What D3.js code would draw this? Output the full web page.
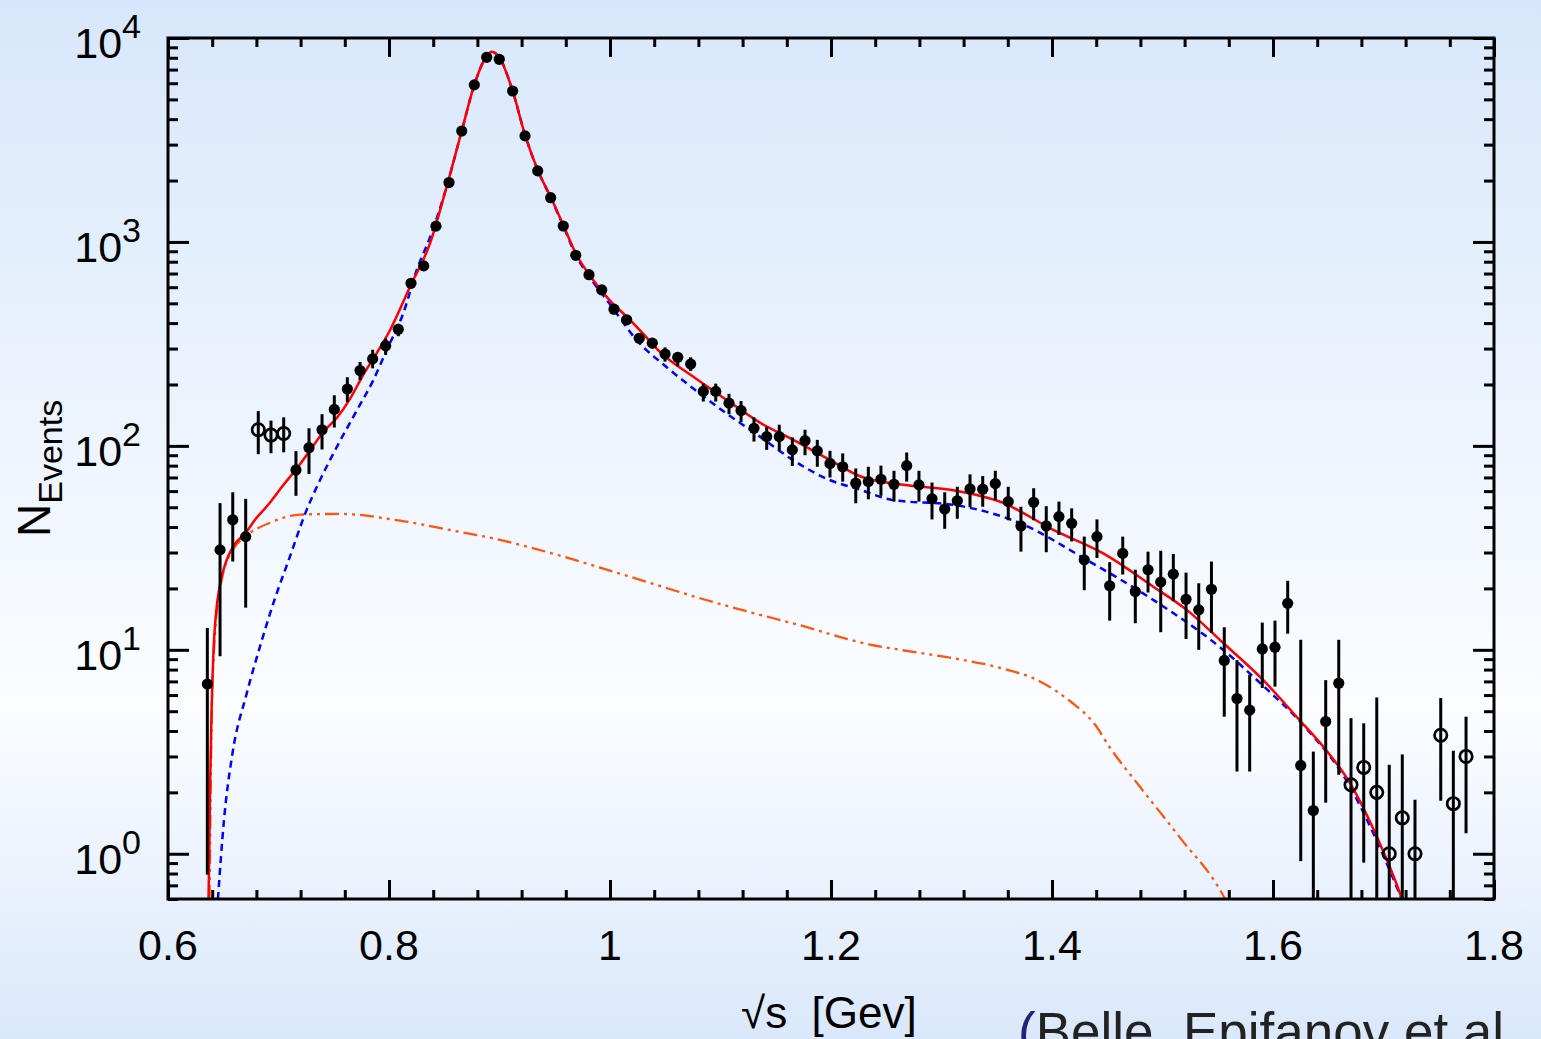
<!DOCTYPE html>
<html lang="en">
<head>
<meta charset="utf-8">
<script src="https://cdn.jsdelivr.net/npm/d3@7"></script>
<style>
  body { margin: 0; padding: 0; overflow: hidden; }
  text { font-family: "Liberation Sans", Arial, sans-serif; }
</style>
<title>K pi spectrum</title>
</head>
<body>
<div id="chart"></div>
<script>

// ---- data ----
// filled points: sqrt(s) [GeV], events, lower / upper end of error bar
var filledX = [0.6356,0.6471,0.6586,0.6703,0.7158,0.7276,0.7394,0.7505,0.7623,0.7738,0.7852,0.7970,0.8084,
  0.8199,0.8314,0.8425,0.8543,0.8658,0.8772,0.8884,0.8998,0.9119,0.9231,0.9346,0.9463,0.9577,0.9690,0.9810,
  0.9925,1.0036,1.0151,1.0265,1.0383,1.0498,1.0613,1.0730,1.0844,1.0957,1.1077,1.1186,1.1303,1.1418,1.1532,
  1.1650,1.1765,1.1876,1.1991,1.2106,1.2224,1.2338,1.2452,1.2570,1.2685,1.2796,1.2914,1.3029,1.3143,1.3258,
  1.3373,1.3487,1.3604,1.3719,1.3834,1.3948,1.4063,1.4178,1.4292,1.4407,1.4522,1.4640,1.4754,1.4869,1.4984,
  1.5098,1.5213,1.5328,1.5443,1.5559,1.5674,1.5789,1.5903,1.6018,1.6133,1.6251,1.6365,1.6477,1.6595];
var filledY = [6.8,30.9,43.4,35.9,76.2,98,120,151,190,234,267,310,373,
  627,763,1195,1955,3500,5890,8040,7860,5497,3311,2230,1648,1197,860,691,
  582,468,415,337,319,282,272,252,185,185,162,149,122,111,111,
  95.6,106,94.5,82,79,65.6,66.8,68.6,64.8,80,64.4,55,49,53.8,61.5,
  61.3,65.3,53.3,40.5,52.9,40.5,45,41.7,27.6,35.9,20.6,29.7,19.3,24.7,21.5,
  23.5,17.7,15.7,19.8,8.87,5.77,5.06,10.1,10.3,16.9,2.71,1.63,4.45,6.86];
var filledLo = [0.79,9.3,27.1,16.1,56.9,72.8,96,123,164,210,240,279,345,
  610,745,1170,1920,3440,5810,7950,7770,5420,3250,2180,1605,1160,830,665,
  558,447,395,318,300,259,246,233,165,165,143,131,105,95.6,95,
  79.7,90,79,70,66.8,52.3,54.7,56.9,53.3,66.8,53.3,43.6,39.2,43.9,50,
  50.3,54.2,43.2,30.3,43.2,30.1,36.6,34,19.6,28.2,13.9,23.4,13.5,19.1,12.2,
  17.3,11.3,10,12.1,4.7,2.53,2.53,6.5,6.6,12,0.92,0,1.78,2.44];
var filledHi = [12.8,52.4,59.2,55,94.2,122,143,177,217,258,296,336,397,
  645,782,1220,1990,3560,5970,8130,7950,5570,3370,2280,1690,1235,890,717,
  606,489,435,356,338,304,286,272,202,202,180,166,138,124,127,
  110,120,107,94.6,91.9,77.5,79,80,75.5,92.8,75.5,66.1,59.2,63,72.5,
  71.1,75.5,63,50.3,62,50.6,53.3,49.4,35.9,43.6,26.9,35.9,24.7,30.3,30.6,
  29.5,23.9,21.2,27.1,12.9,8.9,7.55,13.6,13.9,21.8,11.2,3.17,7.1,11.2];

// open points
var openX  = [0.6817,0.6932,0.7047,1.6706,1.6821,1.6939,1.7052,1.7170,1.7285,1.7518,1.7632,1.7747];
var openY  = [120,113,115,2.18,2.65,2.0,1.0,1.5,1.0,3.81,1.76,3.0];
var openLo = [91,92,93,0,0.905,0,0,0,0,1.82,0,1.26];
var openHi = [148,133,138,4.62,4.36,5.84,2.73,3.07,1.84,5.8,3.2,4.7];

// total fit (red)
var totalX = [0.6367,0.6373,0.6380,0.6394,0.6412,0.6434,0.6471,0.6525,0.6588,0.6703,0.6796,0.6893,0.7041,
  0.7165,0.7285,0.7405,0.7527,0.7647,0.7767,0.7889,0.8009,0.8190,0.8371,0.8522,0.8658,0.8772,0.8884,0.8929,
  0.8998,0.9119,0.9231,0.9346,0.9463,0.9577,0.9692,0.9849,1.0000,1.0151,1.0299,1.0452,1.0754,1.1056,1.1357,
  1.1659,1.1961,1.2262,1.2654,1.3107,1.3559,1.4012,1.4464,1.4917,1.5219,1.5550,1.5912,1.6244,1.6455,1.6697,
  1.6938,1.7149,1.7167];
var totalY = [0.6,1.0,2.0,5,10,15,21,27,32,37.5,44,50.4,64,
  77.5,95,117,137,170,223,285,369,603,984,1868,3500,5890,8175,8560,
  8040,5500,3350,2250,1660,1210,875,649,515,430,355,289,218,168,130,
  107,87,71,64.4,60.6,52.5,38.7,29.7,20.4,15.7,10.8,7.1,4.5,3.35,2.22,
  1.22,0.64,0.6];

// vector K* part (blue dashed)
var vectorX = [0.6452,0.6507,0.6579,0.6712,0.6833,0.6953,0.7104,0.7243,0.7376,0.7527,0.7708,0.7858,0.7979,
  0.8129,0.8251,0.8371,0.8522,0.8658,0.8772,0.8884,0.8929,0.8998,0.9119,0.9231,0.9346,0.9463,0.9577,0.9692,
  0.9849,1.0000,1.0242,1.0513,1.0754,1.1056,1.1357,1.1659,1.1961,1.2262,1.2564,1.3107,1.3710,1.4314,1.4914,
  1.5520,1.5912,1.6244,1.6697,1.6908,1.7165];
var vectorY = [0.6,1.47,3.0,6.1,10.4,16.9,28.7,46.8,68,98.6,149,210,295,
  447,729,1052,1868,3500,5890,8175,8560,8040,5500,3350,2250,1650,1200,860,
  635,495,330,243,191,144,111,85,69,61,54.2,51.4,41.8,27.6,17.6,
  10.3,6.65,4.45,2.13,1.26,0.6];

// scalar part (orange dash-dot-dot)
var scalarX = [0.6376,0.6389,0.6416,0.6486,0.6588,0.6703,0.6923,0.7195,0.7557,0.8100,0.8552,0.9005,0.9457,
  0.9910,1.0362,1.0814,1.1267,1.1719,1.2172,1.2353,1.2624,1.3077,1.3529,1.3891,1.4163,1.4389,1.4525,1.4796,
  1.5158,1.5538,1.5566];
var scalarY = [0.6,2.9,10,22,31,36,42,46,46.4,43,38.7,34.6,29.9,
  25.3,21.3,17.9,15.3,13.2,11.2,10.6,10.0,9.15,8.16,7.0,5.6,4.3,3.31,2.13,
  1.2,0.64,0.6];

// tick labels
var xMajorTicks = [0.6, 0.8, 1.0, 1.2, 1.4, 1.6, 1.8];
var xTickLabels = ["0.6", "0.8", "1", "1.2", "1.4", "1.6", "1.8"];
var yMajorExp = [0, 1, 2, 3, 4];

// ---- layout ----
var width = 1541;
var height = 1039;
var padL = 168, padR = 1494, padT = 38, padB = 899;

var x = d3.scaleLinear().domain([0.6, 1.8]).range([padL, padR]);
var y = d3.scaleLog().domain([0.6, 10000]).range([padB, padT]);

var svg = d3.select("#chart")
  .append("svg")
  .attr("width", width)
  .attr("height", height);

// background gradient
var defs = svg.append("defs");
var bg = defs.append("linearGradient")
  .attr("id", "bg")
  .attr("x1", 0).attr("y1", 0).attr("x2", 0).attr("y2", 1);
bg.append("stop").attr("offset", "0%").attr("stop-color", "#d7e7fb");
bg.append("stop").attr("offset", "68%").attr("stop-color", "#fbfdff");
bg.append("stop").attr("offset", "100%").attr("stop-color", "#dae8fb");

svg.append("rect")
  .attr("width", width)
  .attr("height", height)
  .style("fill", "url(#bg)");

defs.append("clipPath")
  .attr("id", "plotclip")
  .append("rect")
  .attr("x", padL).attr("y", padT)
  .attr("width", padR - padL).attr("height", padB - padT);

// ---- axes (ticks point inward on all four sides) ----
var xMinor = d3.range(0.64, 1.8, 0.04).filter(function(v) {
  return Math.abs(Math.round(v / 0.2) * 0.2 - v) > 1e-6;
});
var yMinor = [];
for (var e = -1; e < 4; e++) {
  for (var k = 2; k <= 9; k++) {
    var v = k * Math.pow(10, e);
    if (v > 0.6 && v < 10000) yMinor.push(v);
  }
}
var yMajor = yMajorExp.map(function(p) { return Math.pow(10, p); });

function drawAxis(axis, tx, ty) {
  var g = svg.append("g")
    .attr("transform", "translate(" + tx + "," + ty + ")")
    .call(axis);
  g.select(".domain").remove();
  g.selectAll("text").remove();
  g.selectAll("line").style("stroke", "#000").style("stroke-width", 3);
}

drawAxis(d3.axisBottom(x).tickValues(xMajorTicks).tickSize(-19), 0, padB);
drawAxis(d3.axisBottom(x).tickValues(xMinor).tickSize(-9), 0, padB);
drawAxis(d3.axisTop(x).tickValues(xMajorTicks).tickSize(-19), 0, padT);
drawAxis(d3.axisTop(x).tickValues(xMinor).tickSize(-9), 0, padT);
drawAxis(d3.axisLeft(y).tickValues(yMajor).tickSize(-21), padL, 0);
drawAxis(d3.axisLeft(y).tickValues(yMinor).tickSize(-10), padL, 0);
drawAxis(d3.axisRight(y).tickValues(yMajor).tickSize(-21), padR, 0);
drawAxis(d3.axisRight(y).tickValues(yMinor).tickSize(-10), padR, 0);

// x tick labels
svg.append("g").selectAll("text")
  .data(xMajorTicks)
  .enter()
  .append("text")
  .attr("x", function(d) { return x(d); })
  .attr("y", padB + 61)
  .attr("text-anchor", "middle")
  .style("font-size", "43px")
  .style("fill", "#000")
  .text(function(d, i) { return xTickLabels[i]; });

// y tick labels 10^n
var ylab = svg.append("g").selectAll("text")
  .data(yMajorExp)
  .enter()
  .append("text")
  .attr("x", 141)
  .attr("y", function(d) { return y(Math.pow(10, d)) + 20; })
  .attr("text-anchor", "end")
  .style("fill", "#000");
ylab.append("tspan").style("font-size", "43px").text("10");
ylab.append("tspan").style("font-size", "34px").attr("dy", -20)
  .text(function(d) { return d; });

// axis titles
var yt = svg.append("text")
  .attr("transform", "translate(50,537) rotate(-90)")
  .style("fill", "#000");
yt.append("tspan").style("font-size", "46px").text("N");
yt.append("tspan").style("font-size", "34px").attr("dy", 12).text("Events");

svg.append("text")
  .attr("x", 741)
  .attr("y", 1028)
  .style("font-size", "44px")
  .style("white-space", "pre")
  .style("fill", "#000")
  .text("\u221As  [Gev]");

var cite = svg.append("text")
  .attr("x", 1018)
  .attr("y", 1050)
  .style("font-size", "53px")
  .style("fill", "#222");
cite.append("tspan").style("fill", "#23237a").text("(");
cite.append("tspan").text("Belle, Epifanov et al");

// ---- curves ----
var plot = svg.append("g").attr("clip-path", "url(#plotclip)");

var line = d3.line()
  .x(function(d) { return x(d[0]); })
  .y(function(d) { return y(Math.max(d[1], 0.6)); })
  .curve(d3.curveMonotoneX);

function pairs(xs, ys) { return xs.map(function(v, i) { return [v, ys[i]]; }); }

plot.append("path")
  .attr("d", line(pairs(scalarX, scalarY)))
  .style("fill", "none")
  .style("stroke", "#ff5510")
  .style("stroke-width", 2.3)
  .style("stroke-dasharray", "14,5,3,5,3,5");

plot.append("path")
  .attr("d", line(pairs(vectorX, vectorY)))
  .style("fill", "none")
  .style("stroke", "#0000ff")
  .style("stroke-width", 2.5)
  .style("stroke-dasharray", "7,5");

plot.append("path")
  .attr("d", line(pairs(totalX, totalY)))
  .style("fill", "none")
  .style("stroke", "#ff0000")
  .style("stroke-width", 2.5);

// ---- data points with error bars ----
function barEnd(v) { return v <= 0.6 ? padB + 5 : y(v); }

plot.append("g").selectAll("line")
  .data(filledX.map(function(v, i) { return i; }))
  .enter()
  .append("line")
  .attr("x1", function(i) { return x(filledX[i]); })
  .attr("x2", function(i) { return x(filledX[i]); })
  .attr("y1", function(i) { return barEnd(filledLo[i]); })
  .attr("y2", function(i) { return y(filledHi[i]); })
  .style("stroke", "#000")
  .style("stroke-width", 3);

plot.append("g").selectAll("line")
  .data(openX.map(function(v, i) { return i; }))
  .enter()
  .append("line")
  .attr("x1", function(i) { return x(openX[i]); })
  .attr("x2", function(i) { return x(openX[i]); })
  .attr("y1", function(i) { return barEnd(openLo[i]); })
  .attr("y2", function(i) { return y(openHi[i]); })
  .style("stroke", "#000")
  .style("stroke-width", 3);

plot.append("g").selectAll("circle")
  .data(filledX.map(function(v, i) { return i; }))
  .enter()
  .append("circle")
  .attr("cx", function(i) { return x(filledX[i]); })
  .attr("cy", function(i) { return y(filledY[i]); })
  .attr("r", 5.6)
  .style("fill", "#000");

plot.append("g").selectAll("circle")
  .data(openX.map(function(v, i) { return i; }))
  .enter()
  .append("circle")
  .attr("cx", function(i) { return x(openX[i]); })
  .attr("cy", function(i) { return y(openY[i]); })
  .attr("r", 6.2)
  .style("fill", "none")
  .style("stroke", "#000")
  .style("stroke-width", 2.7);

// frame
svg.append("rect")
  .attr("x", padL).attr("y", padT)
  .attr("width", padR - padL).attr("height", padB - padT)
  .style("fill", "none")
  .style("stroke", "#000")
  .style("stroke-width", 3);

</script>
</body>
</html>
